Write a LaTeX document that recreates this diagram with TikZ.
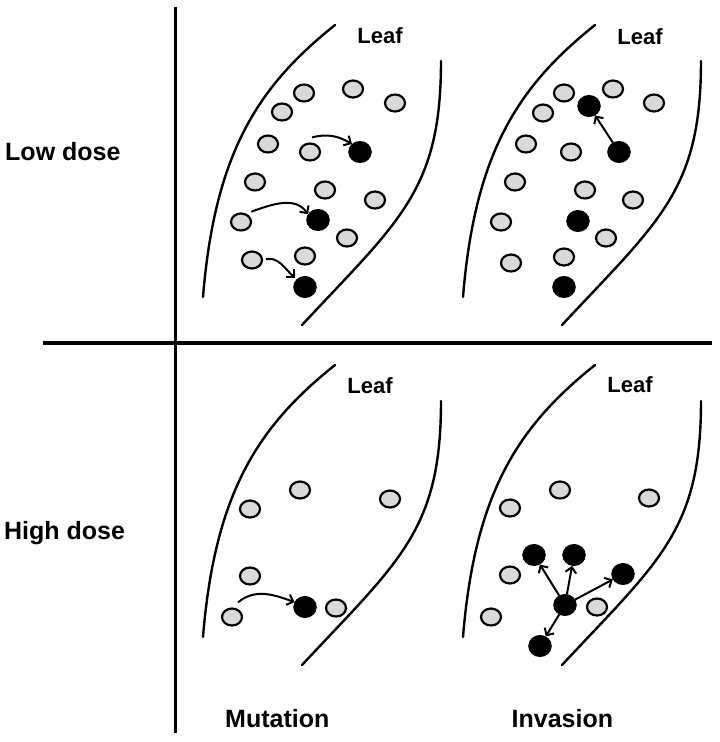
\documentclass[tikz,border=0pt]{standalone}
\usepackage{fontspec}
\setmainfont{Liberation Sans}
\usetikzlibrary{shapes.geometric,arrows.meta}
\definecolor{cellgray}{RGB}{217,217,217}

\begin{document}
\begin{tikzpicture}[
    x=1pt, y=-1pt,
    cell/.style={ellipse, draw, line width=2.2pt, fill=cellgray, minimum width=20pt, minimum height=17pt, inner sep=0pt},
    mutant/.style={ellipse, draw, line width=1pt, fill=black, minimum width=22.5pt, minimum height=21pt, inner sep=0pt},
    leafline/.style={line width=2.4pt, line cap=round},
    axis/.style={line width=3.3pt},
    move/.style={line width=2pt, -{Straight Barb[length=5.5pt, width=11pt]}},
    label/.style={font=\fontsize{25}{30}\selectfont\bfseries, anchor=base west, inner sep=0pt},
    leaftext/.style={font=\fontsize{22}{26}\selectfont\bfseries, inner sep=0pt},
    leaf/.pic={
        \draw[leafline] (335,25) .. controls (260,85) and (215,150) .. (203,297);
        \draw[leafline] (441,61) .. controls (441,190) and (400,220) .. (302,325);
    }
]
    \useasboundingbox (0,0) rectangle (720,742);

    % axes
    \draw[axis] (175.7,6.5) -- (175.7,733);
    \draw[axis] (43,343) -- (712,343);

    % row and column labels
    \node[label] (low) at (5,160.6) {Low dose};
    \node[label] (high) at (4,539) {High dose};
    \node[label] (mut) at (225,727.6) {Mutation};
    \node[label] (inv) at (511.5,727.6) {Invasion};

    % low dose, mutation
    \begin{scope}
        \pic {leaf};
        \node[leaftext] (leaf1) at (380,36) {Leaf};
        \node[cell] (lm1) at (304,93) {};
        \node[cell] (lm2) at (353,89) {};
        \node[cell] (lm3) at (395,103) {};
        \node[cell] (lm4) at (282,112) {};
        \node[cell] (lm5) at (268,144) {};
        \node[cell] (lm6) at (310,152) {};
        \node[cell] (lm7) at (255,182) {};
        \node[cell] (lm8) at (325,190) {};
        \node[cell] (lm9) at (375,200) {};
        \node[cell] (lm10) at (241,222) {};
        \node[cell] (lm11) at (347,238) {};
        \node[cell] (lm12) at (252,260) {};
        \node[cell] (lm13) at (305,256) {};
        \node[mutant] (lmx1) at (360,152) {};
        \node[mutant] (lmx2) at (318,220) {};
        \node[mutant] (lmx3) at (305,287) {};
        \draw[move] ([shift={(2pt,5pt)}]lm6.north) to[out=15, in=150] (lmx1.135);
        \draw[move] ([shift={(3pt,3pt)}]lm10.45) to[out=20, in=125] (lmx2.150);
        \draw[move, shorten <=3pt, shorten >=2pt] (lm12.east) to[out=15, in=135] (lmx3.140);
    \end{scope}

    % low dose, invasion
    \begin{scope}[shift={(260,0)}]
        \pic {leaf};
        \node[leaftext] (leaf2) at (380,37) {Leaf};
        \node[cell] (li1) at (304,93) {};
        \node[cell] (li2) at (353,89) {};
        \node[cell] (li3) at (394,103) {};
        \node[cell] (li4) at (283,113) {};
        \node[cell] (li5) at (266,144) {};
        \node[cell] (li6) at (311,152) {};
        \node[cell] (li7) at (255,182) {};
        \node[cell] (li8) at (325,190) {};
        \node[cell] (li9) at (373,200) {};
        \node[cell] (li10) at (241,222) {};
        \node[cell] (li11) at (346,238) {};
        \node[cell] (li12) at (251,263) {};
        \node[cell] (li13) at (304,257) {};
        \node[mutant] (lix1) at (329,106) {};
        \node[mutant] (lix2) at (359,152) {};
        \node[mutant] (lix3) at (318,221) {};
        \node[mutant] (lix4) at (304,287) {};
        \draw[move] (lix2) -- (lix1);
    \end{scope}

    % high dose, mutation
    \begin{scope}[shift={(0,340)}]
        \pic {leaf};
        \node[leaftext] (leaf3) at (370,46) {Leaf};
        \node[cell] (hm1) at (300,150) {};
        \node[cell] (hm2) at (250,169) {};
        \node[cell] (hm3) at (390,159) {};
        \node[cell] (hm4) at (250,236) {};
        \node[cell] (hm5) at (232,277) {};
        \node[cell] (hm6) at (336,268) {};
        \node[mutant] (hmx) at (305,267) {};
        \draw[move] ([shift={(6pt,5pt)}]hm5.north) to[out=40, in=160] (hmx.155);
    \end{scope}

    % high dose, invasion
    \begin{scope}[shift={(260,340)}]
        \pic {leaf};
        \node[leaftext] (leaf4) at (370,45) {Leaf};
        \node[cell] (hi1) at (300,150) {};
        \node[cell] (hi2) at (250,168) {};
        \node[cell] (hi3) at (389,158) {};
        \node[cell] (hi4) at (250,235) {};
        \node[cell] (hi5) at (231,277) {};
        \node[cell] (hi6) at (337,267) {};
        \node[mutant] (hic) at (305,265) {};
        \node[mutant] (hix1) at (274,215) {};
        \node[mutant] (hix2) at (314,215) {};
        \node[mutant] (hix3) at (363,234) {};
        \node[mutant] (hix4) at (280,306) {};
        \draw[move] (hic) -- (hix1);
        \draw[move] (hic) -- (hix2);
        \draw[move] (hic) -- (hix3);
        \draw[move] (hic) -- (hix4);
    \end{scope}

\end{tikzpicture}
\end{document}
